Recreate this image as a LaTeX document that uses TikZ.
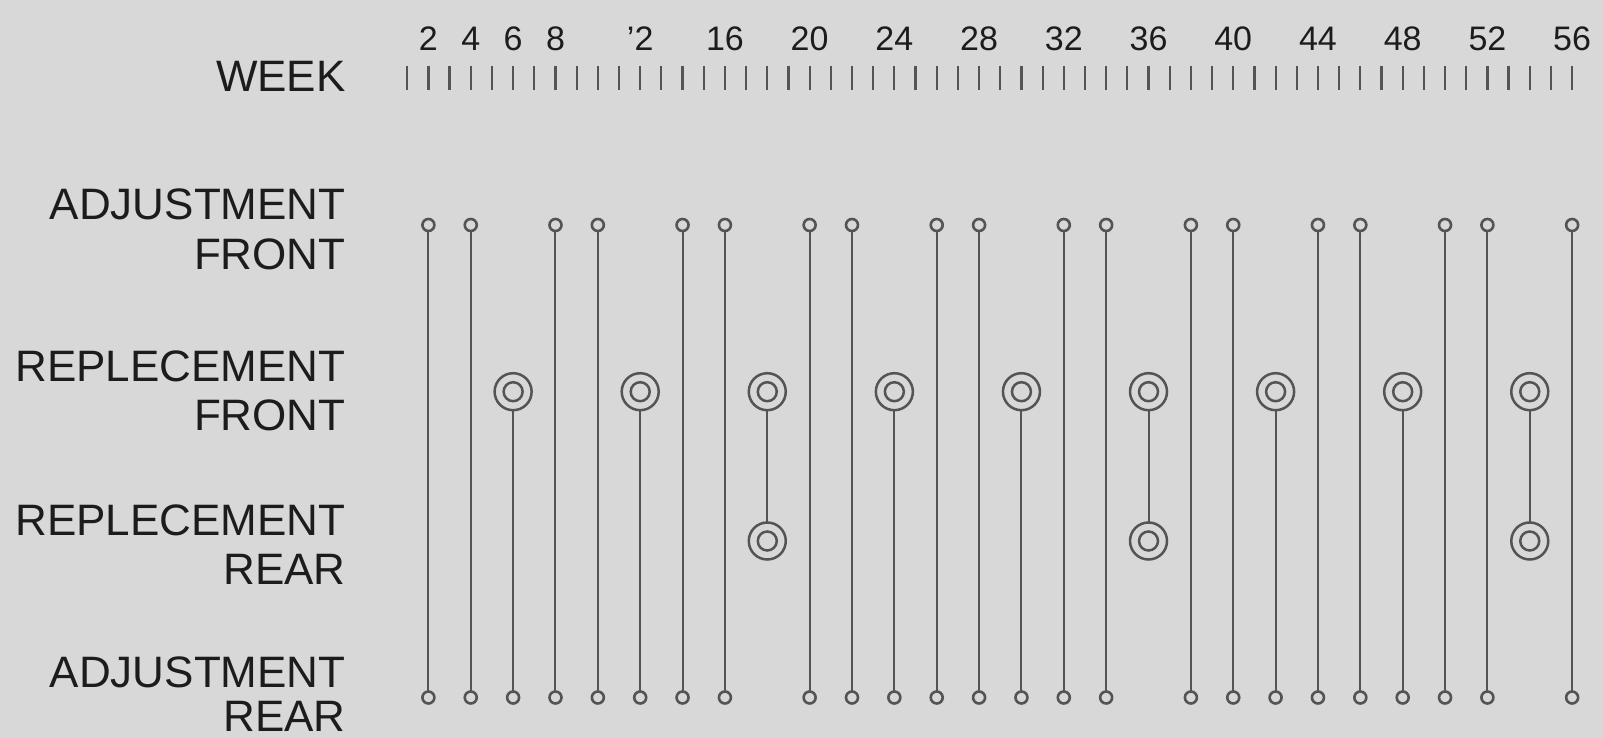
\documentclass[tikz,border=0pt]{standalone}
\usepackage{fontspec}
\setmainfont{Liberation Sans}
\definecolor{bgc}{RGB}{216,216,216}
\definecolor{linec}{RGB}{84,84,84}
\definecolor{txtc}{RGB}{28,28,28}
\begin{document}
\begin{tikzpicture}[x=0.5pt,y=-0.5pt,
  conn/.style={draw=linec, line width=1pt},
  tickmark/.style={draw=linec, line width=1.1pt},
  smallc/.style={circle, draw=linec, line width=1.3pt, minimum size=6pt, inner sep=0pt, outer sep=0pt},
  bigc/.style={circle, draw=linec, line width=1.25pt, minimum size=18.5pt, inner sep=0pt, outer sep=0pt},
  ringc/.style={draw=linec, line width=1.25pt},
  lab/.style={text=txtc, inner sep=0pt, font=\fontsize{22}{26}\selectfont, anchor=base east},
  wklab/.style={text=txtc, inner sep=0pt, font=\fontsize{17}{20}\selectfont, anchor=base}
]
\fill[bgc] (0,0) rectangle (1603,738);
\useasboundingbox (0,0) rectangle (1603,738);

% row labels
\node[lab] (wk) at (346,92) {WEEK};
\node[lab] (afa) at (346,220) {ADJUSTMENT};
\node[lab] (afb) at (346,269.5) {FRONT};
\node[lab] (rfa) at (346,381) {REPLECEMENT};
\node[lab] (rfb) at (346,430.5) {FRONT};
\node[lab] (rra) at (346,535) {REPLECEMENT};
\node[lab] (rrb) at (346,584) {REAR};
\node[lab] (ara) at (346,687) {ADJUSTMENT};
\node[lab] (arb) at (346,731) {REAR};

% week ticks
\foreach \w in {1,...,56}{
  \draw[tickmark] ({428.4+(\w-2)*21.18},66) -- ++(0,24);
}
% week numbers
\foreach \w/\t in {2/2,4/4,6/6,8/8,12/{'2},16/16,20/20,24/24,28/28,32/32,36/36,40/40,44/44,48/48,52/52,56/56}{
  \node[wklab] (wl\w) at ({428.4+(\w-2)*21.18},51) {\t};
}

% events
\foreach \w in {2,4,...,56}{
  \pgfmathsetmacro\xx{428.4+(\w-2)*21.18}
  \pgfmathtruncatemacro\ma{mod(\w,18)}
  \pgfmathtruncatemacro\mb{mod(\w,6)}
  \ifnum\ma=0
    \node[bigc] (rf\w) at (\xx,391.7) {};
    \draw[ringc] (rf\w.center) circle[radius=4.75pt];
    \node[bigc] (rr\w) at (\xx,541) {};
    \draw[ringc] (rr\w.center) circle[radius=4.75pt];
    \draw[conn] (rf\w) -- (rr\w);
  \else
    \ifnum\mb=0
      \node[bigc] (rf\w) at (\xx,391.7) {};
      \draw[ringc] (rf\w.center) circle[radius=4.75pt];
      \node[smallc] (ar\w) at (\xx,697.5) {};
      \draw[conn] (rf\w) -- (ar\w);
    \else
      \node[smallc] (af\w) at (\xx,225) {};
      \node[smallc] (ar\w) at (\xx,697.5) {};
      \draw[conn] (af\w) -- (ar\w);
    \fi
  \fi
}
\end{tikzpicture}
\end{document}
